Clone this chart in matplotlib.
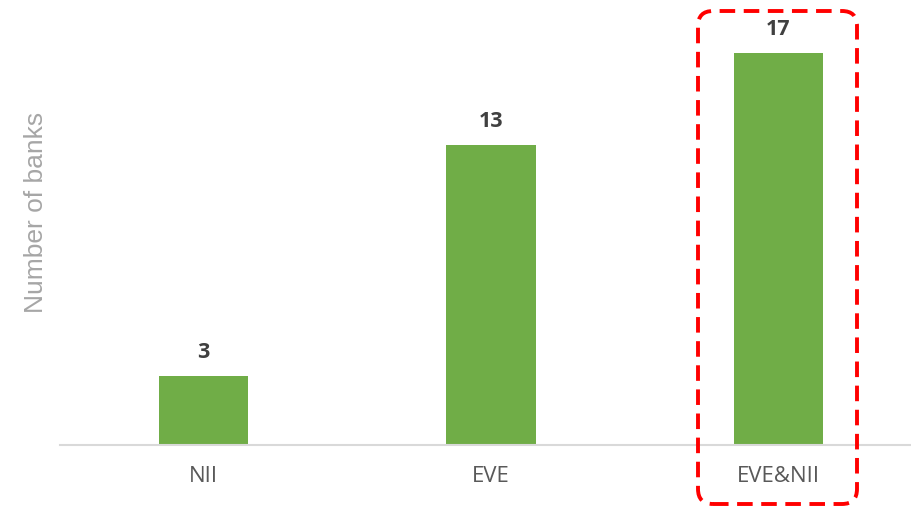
import matplotlib.pyplot as plt
from matplotlib.patches import FancyBboxPatch
from matplotlib.transforms import IdentityTransform

# bank counts per measure
categories = ['NII', 'EVE', 'EVE&NII']
banks = [3, 13, 17]

fig = plt.figure(figsize=(9.12, 5.09), dpi=100)
ax = fig.add_axes([60 / 912, 64 / 509, 862 / 912, 425 / 509])

x = range(len(categories))
ax.bar(x, banks, width=0.31, color='#70AD47')
ax.set_xlim(-0.5, 2.5)
ax.set_ylim(0, 425 / 23.05)

for i, v in zip(x, banks):
    ax.text(i, v + 0.78, str(v), ha='center', va='baseline', fontsize=15.5,
            fontweight='bold', color='#404040', family='Open Sans')

ax.set_xticks(list(x))
ax.set_xticklabels(categories, fontsize=16, color='#595959', family='Open Sans')
ax.tick_params(axis='x', length=0, pad=15)
ax.set_yticks([])
for s in ['top', 'right', 'left']:
    ax.spines[s].set_visible(False)
ax.spines['bottom'].set_color('#D9D9D9')
ax.spines['bottom'].set_linewidth(1.5)

fig.text(36 / 912, 1 - 212 / 509, 'Number of banks', rotation=90, ha='center',
         va='center', fontsize=19, color='#A6A6A6', family='Liberation Sans')

# dashed highlight box around the last category (pixel coordinates)
box = FancyBboxPatch((698, 509 - 504), 159, 493,
                     boxstyle='round,pad=0,rounding_size=15',
                     transform=IdentityTransform(), fill=False,
                     edgecolor='#FF0000', linewidth=2.8, linestyle=(0, (4, 2.2)))
fig.patches.append(box)

fig.savefig('out.png', dpi=100)
